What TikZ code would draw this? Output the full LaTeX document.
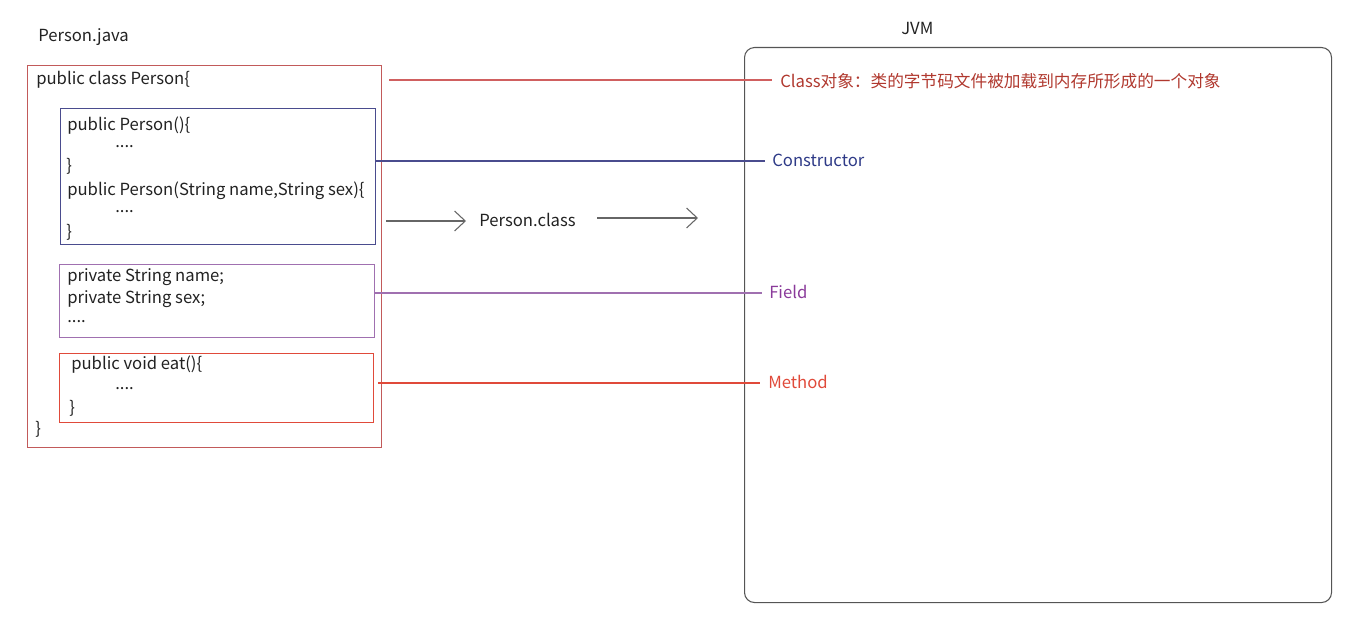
\documentclass[tikz,border=0pt]{standalone}
\usepackage{fontspec}
\setmainfont{Noto Sans CJK SC}
\usetikzlibrary{arrows.meta}
\definecolor{txt}{HTML}{222222}
\definecolor{outerc}{HTML}{C25A5A}
\definecolor{ctorc}{HTML}{4A4C8E}
\definecolor{ctort}{HTML}{2E3A87}
\definecolor{fieldc}{HTML}{A070B0}
\definecolor{fieldt}{HTML}{8A3A9A}
\definecolor{methc}{HTML}{E04A3A}
\definecolor{classt}{HTML}{B0382E}
\definecolor{classl}{HTML}{D06060}
\definecolor{jvmc}{HTML}{555555}
\definecolor{arrc}{HTML}{666666}
\tikzset{
  code/.style={anchor=west, inner sep=0pt, yshift=-1.2pt, text=txt, font=\fontsize{12.5pt}{14pt}\selectfont},
  lbl/.style={anchor=west, inner sep=0pt, yshift=-1.2pt, font=\fontsize{12.5pt}{14pt}\selectfont},
  boxx/.style={draw, anchor=north west, inner sep=0pt, line width=0.8pt},
  link/.style={line width=0.8pt},
  flow/.style={draw=arrc, line width=0.8pt, -{Straight Barb[length=8pt,width=15pt]}}
}
\begin{document}
\begin{tikzpicture}[x=0.75pt,y=-0.75pt]
\useasboundingbox (0,0) rectangle (1364,635);
% left
\node[code] (pj) at (38,35) {Person.java};
\node[boxx, draw=outerc, minimum width=265.5pt, minimum height=286.5pt] (outer) at (27,65) {};
\node[code] (l0) at (36,78) {public class Person\{};
\node[boxx, draw=ctorc, minimum width=236.25pt, minimum height=102pt] (ctorbox) at (60,108) {};
\node[code] (c1) at (67,124) {public Person()\{};
\node[code] (c2) at (115,145) {....};
\node[code] (c3) at (66,165) {\}};
\node[code] (c4) at (67,189) {public Person(String name,String sex)\{};
\node[code] (c5) at (115,210) {....};
\node[code] (c6) at (66,231) {\}};
\node[boxx, draw=fieldc, minimum width=236.25pt, minimum height=54.75pt] (fieldbox) at (59,264) {};
\node[code] (f1) at (67,276) {private String name;};
\node[code] (f2) at (67,298) {private String sex;};
\node[code] (f3) at (67,320) {....};
\node[boxx, draw=methc, minimum width=235.5pt, minimum height=51.75pt] (methbox) at (59,353) {};
\node[code] (m1) at (71,363) {public void eat()\{};
\node[code] (m2) at (115,387) {....};
\node[code] (m3) at (69,407) {\}};
\node[code] (l9) at (35,428) {\}};
% JVM
\node[code] (jvmt) at (901,27) {JVM};
\node[boxx, draw=jvmc, rounded corners=7.5pt, minimum width=440.25pt, minimum height=416.25pt] (jvm) at (744,47) {};
\node[lbl, text=classt] (classlbl) at (780,80) {Class对象：类的字节码文件被加载到内存所形成的一个对象};
\node[lbl, text=ctort] (ctorlbl) at (772,159) {Constructor};
\node[lbl, text=fieldt] (fieldlbl) at (769,290) {Field};
\node[lbl, text=methc] (methlbl) at (768,380) {Method};
% middle
\node[code] (pc) at (479,218) {Person.class};
\coordinate (a1s) at (386,221);
\coordinate (a1e) at (466,221);
\coordinate (a2s) at (597,218);
\coordinate (a2e) at (698,218);
\coordinate (cls) at (389,80);
\draw[flow] (a1s) -- (a1e);
\draw[flow] (a2s) -- (a2e);
% connectors
\draw[link, draw=classl] (cls) -- ([xshift=-6pt]classlbl.west |- cls);
\draw[link, draw=ctorc] (ctorbox.east |- 0,161) -- ([xshift=-5pt]ctorlbl.west |- 0,161);
\draw[link, draw=fieldc] (fieldbox.east |- 0,293) -- ([xshift=-5pt]fieldlbl.west |- 0,293);
\draw[link, draw=methc] ([xshift=3pt]methbox.east |- 0,383) -- ([xshift=-6pt]methlbl.west |- 0,383);
\end{tikzpicture}
\end{document}
